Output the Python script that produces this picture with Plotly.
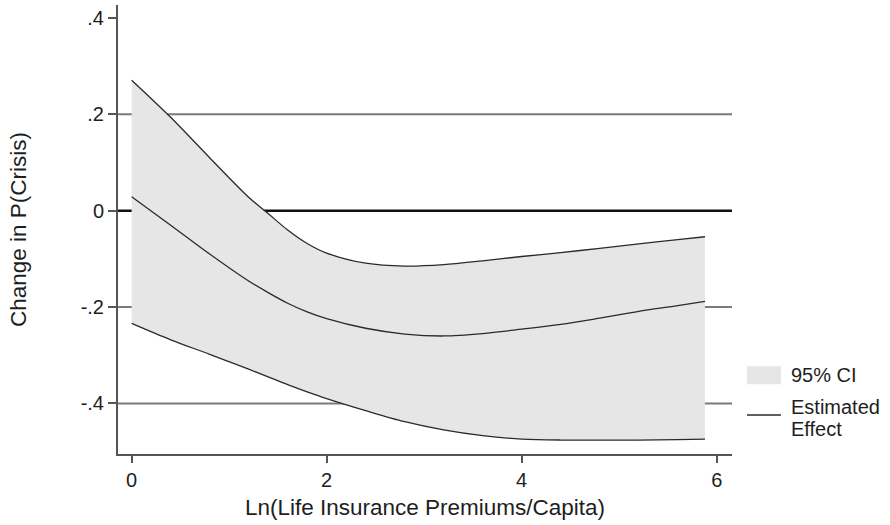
import plotly.graph_objects as go

# Data
x_vals = [0, 0.4, 0.8, 1.2, 1.4, 1.6, 1.8, 2.0, 2.4, 2.8, 3.2, 3.6, 4.0, 4.4, 4.8, 5.2, 5.6, 5.88]
upper_ci = [0.271, 0.194, 0.110, 0.028, -0.006, -0.040, -0.068, -0.088, -0.109, -0.115,
            -0.112, -0.104, -0.095, -0.087, -0.078, -0.069, -0.060, -0.054]
estimate = [0.029, -0.030, -0.090, -0.146, -0.170, -0.192, -0.210, -0.224, -0.244, -0.256,
            -0.260, -0.255, -0.246, -0.236, -0.223, -0.209, -0.197, -0.188]
lower_ci = [-0.234, -0.268, -0.298, -0.329, -0.345, -0.361, -0.376, -0.390, -0.415, -0.438,
            -0.455, -0.467, -0.474, -0.476, -0.476, -0.476, -0.475, -0.474]

x_ticks = [0, 2, 4, 6]
x_tick_labels = ["0", "2", "4", "6"]
y_ticks = [0.4, 0.2, 0, -0.2, -0.4]
y_tick_labels = [".4", ".2", "0", "-.2", "-.4"]
grid_levels = [0.2, -0.2, -0.4]

FONT = "Liberation Sans, Arial, Helvetica, sans-serif"
LINE_COL = "#2a2a2a"
FILL_COL = "#e6e6e6"
TEXT_COL = "#1e1e1e"

fig = go.Figure()

SPL = dict(shape="spline", smoothing=0.9)

# CI band
fig.add_trace(go.Scatter(x=x_vals, y=lower_ci, mode="lines",
                         line=dict(width=0, **SPL), showlegend=False, hoverinfo="skip"))
fig.add_trace(go.Scatter(x=x_vals, y=upper_ci, mode="lines", fill="tonexty",
                         fillcolor=FILL_COL, line=dict(width=0, **SPL),
                         name="95% CI", showlegend=False))
for yy in (upper_ci, lower_ci):
    fig.add_trace(go.Scatter(x=x_vals, y=yy, mode="lines",
                             line=dict(color=LINE_COL, width=1.3, **SPL), showlegend=False))
fig.add_trace(go.Scatter(x=x_vals, y=estimate, mode="lines",
                         line=dict(color=LINE_COL, width=1.3, **SPL),
                         name="Estimated Effect", showlegend=False))

shapes = []
for g in grid_levels:
    shapes.append(dict(type="line", xref="paper", x0=0, x1=1, yref="y", y0=g, y1=g,
                       line=dict(color="#7a7a7a", width=2), layer="below"))
shapes.append(dict(type="line", xref="paper", x0=0, x1=1, yref="y", y0=0, y1=0,
                   line=dict(color="#111", width=2.5), layer="below"))

# legend (drawn manually, Stata style)
shapes.append(dict(type="rect", xref="paper", yref="paper", x0=1.0244, x1=1.0797,
                   y0=0.1556, y1=0.1956, fillcolor=FILL_COL, line=dict(width=0)))
shapes.append(dict(type="line", xref="paper", yref="paper", x0=1.0244, x1=1.0797,
                   y0=0.0867, y1=0.0867, line=dict(color=LINE_COL, width=1.5)))
annotations = [
    dict(text="95% CI", xref="paper", yref="paper", x=1.0927, y=0.1756,
         xanchor="left", yanchor="middle", showarrow=False,
         font=dict(size=20, color=TEXT_COL)),
    dict(text="Estimated", xref="paper", yref="paper", x=1.0927, y=0.1044,
         xanchor="left", yanchor="middle", showarrow=False,
         font=dict(size=20, color=TEXT_COL)),
    dict(text="Effect", xref="paper", yref="paper", x=1.0927, y=0.0556,
         xanchor="left", yanchor="middle", showarrow=False,
         font=dict(size=20, color=TEXT_COL)),
]

fig.update_layout(
    width=890, height=525,
    margin=dict(l=118, r=158, t=5, b=71),
    plot_bgcolor="white", paper_bgcolor="white",
    font=dict(family=FONT, size=20, color=TEXT_COL),
    showlegend=False,
    shapes=shapes, annotations=annotations,
    xaxis=dict(range=[-0.14, 6.157], tickvals=x_ticks, ticktext=x_tick_labels,
               showgrid=False, zeroline=False, showline=True, linecolor="#555",
               linewidth=2, ticks="outside", ticklen=7, tickwidth=2, tickcolor="#555",
               title=dict(text="Ln(Life Insurance Premiums/Capita)", standoff=9,
                          font=dict(size=22.5)),
               tickfont=dict(size=20)),
    yaxis=dict(range=[-0.505, 0.427], tickvals=y_ticks, ticktext=y_tick_labels,
               showgrid=False, zeroline=False,
               showline=True, linecolor="#555", linewidth=2,
               ticks="outside", ticklen=8, tickwidth=2, tickcolor="#555",
               title=dict(text="Change in P(Crisis)", standoff=48, font=dict(size=22.5)),
               tickfont=dict(size=20)),
)

fig.write_html("out.html", config={"displayModeBar": False},
               post_script="document.body.style.margin='0';")
